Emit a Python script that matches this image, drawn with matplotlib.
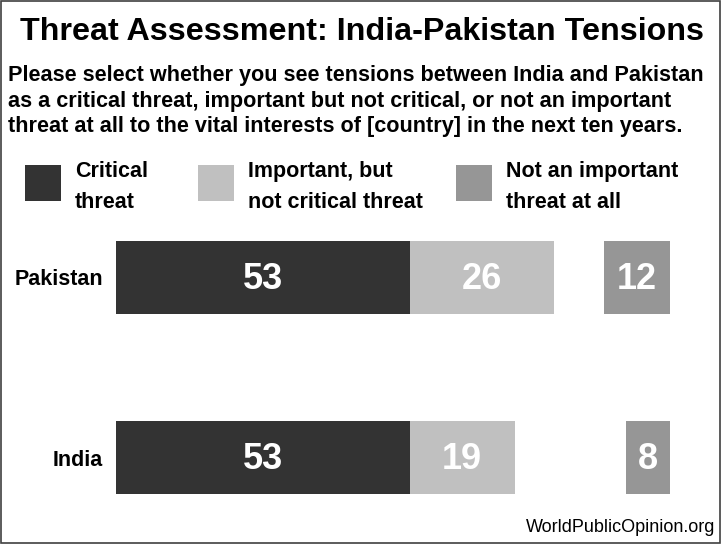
import matplotlib as mpl
import matplotlib.pyplot as plt
from matplotlib import font_manager
from matplotlib.patches import Rectangle

# pick a narrow Arial-like face if one is installed
names = {f.name for f in font_manager.fontManager.ttflist}
FONT = "Liberation Sans Narrow" if "Liberation Sans Narrow" in names else "Liberation Sans"
mpl.rcParams["font.family"] = [FONT, "DejaVu Sans"]

countries = ["India", "Pakistan"]
critical = [53, 53]
important = [19, 26]
not_important = [8, 12]

series_labels = ["Critical\nthreat", "Important, but\nnot critical threat", "Not an important\nthreat at all"]
COLORS = ["#333333", "#c0c0c0", "#969696"]

W, H = 721, 544
fig = plt.figure(figsize=(W / 100, H / 100), dpi=100)


def px(x, y):
    return x / W, 1 - y / H


# outer frame
fig.add_artist(Rectangle((0.001, 0.001), 0.997, 0.997, transform=fig.transFigure,
                         fill=False, edgecolor="#404040", linewidth=1.2))

fig.text(*px(362, 32), "Threat Assessment: India-Pakistan Tensions", ha="center", va="center",
         fontsize=23.2, fontweight="bold")
sub = ["Please select whether you see tensions between India and Pakistan",
       "as a critical threat, important but not critical, or not an important",
       "threat at all to the vital interests of [country] in the next ten years."]
for i, line in enumerate(sub):
    fig.text(*px(8, 76 + i * 25), line, ha="left", va="center", fontsize=15.6, fontweight="bold")

# legend
sq_x = [25, 198, 456]
txt_x = [75, 248, 506]
for sx, tx, lab, c in zip(sq_x, txt_x, series_labels, COLORS):
    fig.add_artist(Rectangle(px(sx, 201), 36 / W, 36 / H, transform=fig.transFigure,
                             facecolor=c, edgecolor="none"))
    fig.text(*px(tx, 187), lab, ha="left", va="center", fontsize=15.5, fontweight="bold",
             linespacing=1.65)

ax = fig.add_axes([116 / W, 0.0428, 554 / W, 0.564])
y = range(len(countries))
h = 0.404
ax.barh(y, critical, height=h, color=COLORS[0])
ax.barh(y, important, left=critical, height=h, color=COLORS[1])
ax.barh(y, not_important, left=[100 - v for v in not_important], height=h, color=COLORS[2])

for i in y:
    for xc, v in [(critical[i] / 2, critical[i]),
                  (critical[i] + important[i] / 2, important[i]),
                  (100 - not_important[i] / 2, not_important[i])]:
        ax.text(xc, i - 0.012, str(v), ha="center", va="center",
                color="white", fontsize=26, fontweight="bold")

ax.set_xlim(0, 100)
ax.set_ylim(-0.35, 1.35)
ax.set_yticks(list(y))
ax.set_yticklabels(countries, fontsize=15.5, fontweight="bold")
ax.tick_params(axis="y", length=0, pad=9.5)
ax.set_xticks([])
for s in ax.spines.values():
    s.set_visible(False)

fig.text(*px(715, 527), "WorldPublicOpinion.org", ha="right", va="center", fontsize=13)

fig.savefig("out.png", dpi=100)
